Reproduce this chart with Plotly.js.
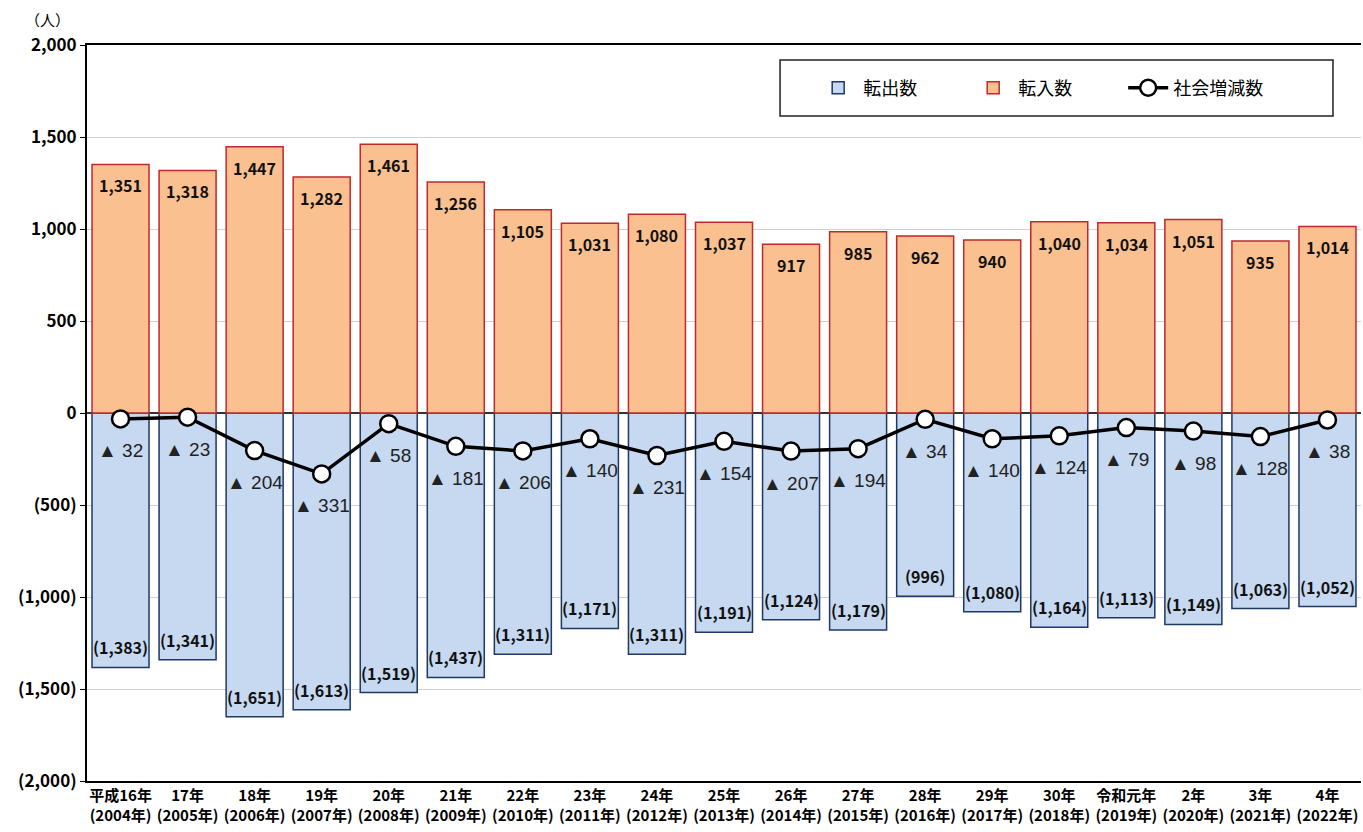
<!DOCTYPE html>
<html>
<head>
<meta charset="utf-8">
<script src="https://cdn.plot.ly/plotly-3.0.1.min.js"></script>
<style>
  body { margin: 0; background: #fff; }
  #graph { width: 1363px; height: 832px; }
</style>
</head>
<body>
<div id="graph"></div>
<script>
var years = ['2004', '2005', '2006', '2007', '2008', '2009', '2010', '2011', '2012', '2013',
  '2014', '2015', '2016', '2017', '2018', '2019', '2020', '2021', '2022'];
var eraLabels = ['平成16年', '17年', '18年', '19年', '20年', '21年', '22年', '23年', '24年', '25年',
  '26年', '27年', '28年', '29年', '30年', '令和元年', '2年', '3年', '4年'];
var tenshutsu = [1383, 1341, 1651, 1613, 1519, 1437, 1311, 1171, 1311, 1191,
  1124, 1179, 996, 1080, 1164, 1113, 1149, 1063, 1052];
var tennyu = [1351, 1318, 1447, 1282, 1461, 1256, 1105, 1031, 1080, 1037,
  917, 985, 962, 940, 1040, 1034, 1051, 935, 1014];
var shakai = [-32, -23, -204, -331, -58, -181, -206, -140, -231, -154,
  -207, -194, -34, -140, -124, -79, -98, -128, -38];
var yTicks = [2000, 1500, 1000, 500, 0, -500, -1000, -1500, -2000];

function fmt(n) {
  var s = Math.abs(n).toLocaleString('en-US');
  return n < 0 ? '(' + s + ')' : s;
}

var cats = years.map(function (y, i) { return eraLabels[i] + '<br>(' + y + '年)'; });

var outTrace = {
  name: '転出数',
  type: 'bar',
  x: cats,
  y: tenshutsu.map(function (v) { return -v; }),
  marker: { color: '#c6d9f1', line: { color: '#1f3864', width: 1.5 } },
  hoverinfo: 'skip'
};

var inTrace = {
  name: '転入数',
  type: 'bar',
  x: cats,
  y: tennyu,
  marker: { color: '#fac090', line: { color: '#c0282d', width: 1.5 } },
  hoverinfo: 'skip'
};

var lineTrace = {
  name: '社会増減数',
  type: 'scatter',
  mode: 'lines+markers',
  x: cats,
  y: shakai,
  line: { color: '#000', width: 3.5 },
  marker: { color: '#fff', size: 17, line: { color: '#000', width: 2.5 } },
  hoverinfo: 'skip'
};

var annotations = [];
var boldFont = { family: 'Noto Sans CJK JP, Liberation Sans, sans-serif', size: 16, color: '#111', weight: 'bold' };
cats.forEach(function (c, i) {
  annotations.push({ x: c, y: tennyu[i], text: fmt(tennyu[i]), showarrow: false, yshift: -21, font: boldFont });
  annotations.push({ x: c, y: -tenshutsu[i], text: fmt(-tenshutsu[i]), showarrow: false, yshift: 20, font: boldFont });
  annotations.push({
    x: c, y: shakai[i], text: '▲ ' + Math.abs(shakai[i]), showarrow: false, yshift: -32,
    font: { family: 'Liberation Sans, sans-serif', size: 19, color: '#222' }
  });
});
annotations.push({
  xref: 'paper', yref: 'paper', x: 0, y: 1, xanchor: 'center', yanchor: 'bottom',
  xshift: -40, yshift: 13, text: '（人）', showarrow: false,
  font: { family: 'Noto Sans CJK JP, sans-serif', size: 15, color: '#000' }
});

var layout = {
  width: 1363,
  height: 832,
  margin: { l: 87, r: 2, t: 45, b: 51 },
  paper_bgcolor: '#fff',
  plot_bgcolor: '#fff',
  barmode: 'relative',
  bargap: 0.15,
  showlegend: true,
  legend: {
    orientation: 'h',
    x: 0.57, y: 0.9416, xanchor: 'left', yanchor: 'middle',
    bgcolor: 'rgba(0,0,0,0)', borderwidth: 0,
    font: { family: 'Noto Sans CJK JP, sans-serif', size: 18, color: '#000' },
    itemwidth: 40,
    entrywidth: 100
  },
  shapes: [{
    type: 'rect', xref: 'paper', yref: 'paper', layer: 'below',
    x0: 0.544, x1: 0.978, y0: 0.9035, y1: 0.9796,
    line: { color: '#222', width: 1.5 }, fillcolor: '#fff'
  }],
  xaxis: {
    type: 'category',
    range: [-0.5, 18.5],
    showline: true, linecolor: '#000', linewidth: 2, mirror: true,
    ticks: '', showgrid: false, tickangle: 0,
    tickfont: { family: 'Noto Sans CJK JP, sans-serif', size: 15, color: '#000', weight: 'bold' }
  },
  yaxis: {
    range: [-2000, 2000],
    tickvals: yTicks,
    ticktext: yTicks.map(fmt),
    showline: true, linecolor: '#000', linewidth: 2,
    ticks: 'outside', ticklen: 5, tickcolor: '#000',
    gridcolor: '#d0d0d0', gridwidth: 1,
    zeroline: true, zerolinecolor: '#333', zerolinewidth: 1.5,
    tickfont: { family: 'Noto Sans CJK JP, Liberation Sans, sans-serif', size: 17, color: '#000', weight: 'bold' }
  },
  annotations: annotations
};

Plotly.newPlot('graph', [outTrace, inTrace, lineTrace], layout, { displayModeBar: false, staticPlot: true });
</script>
</body>
</html>
